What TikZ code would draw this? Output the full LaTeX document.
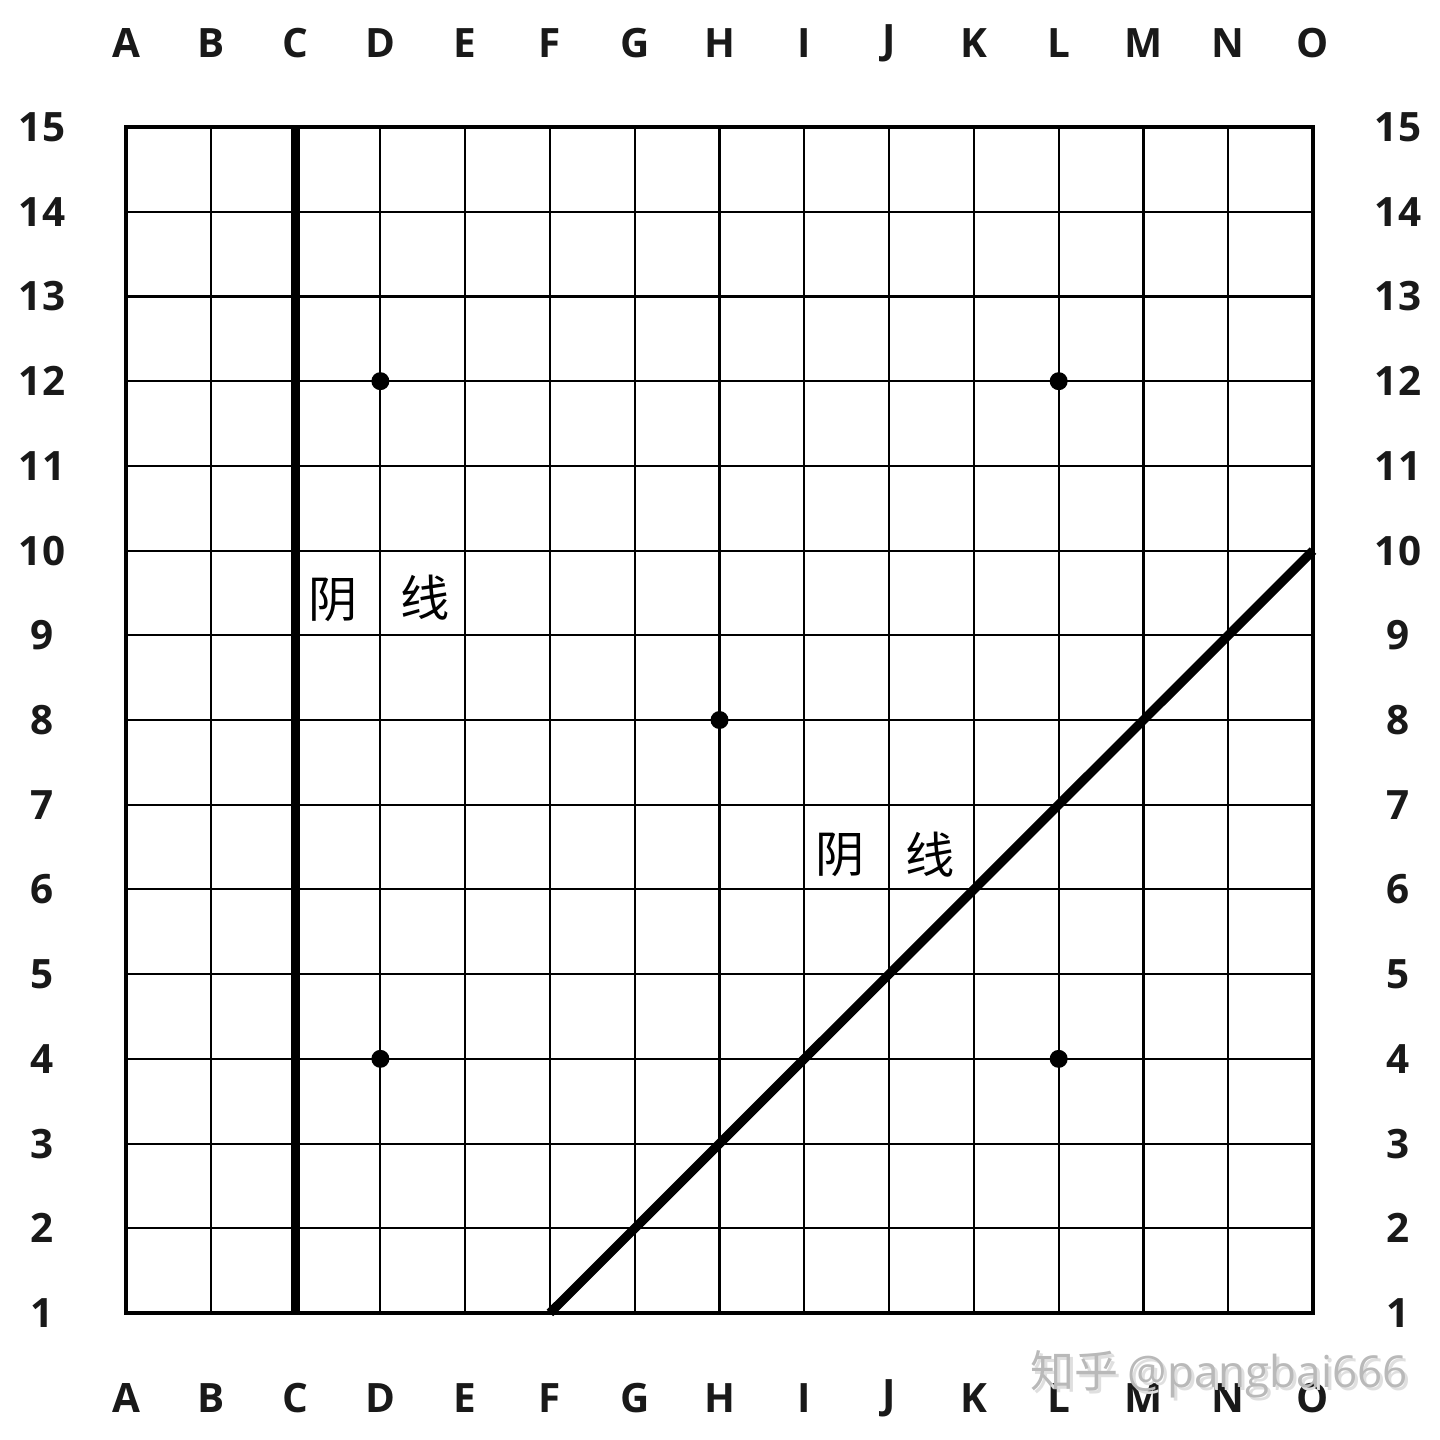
\documentclass[tikz,border=0pt]{standalone}
\usepackage{fontspec}
\setmainfont{Open Sans}
\newfontfamily\cjk{Noto Sans CJK SC}
\begin{document}
\begin{tikzpicture}[x=0.01cm,y=0.01cm,
  lbl/.style={font=\fontsize{11.5}{13}\selectfont\bfseries, text=black!90},
  hand/.style={font=\cjk\fontsize{14}{16}\selectfont, text=black},
  gridline/.style={line width=0.6pt, black},
  border/.style={line width=1.2pt, black},
  yinxian/.style={line width=2.6pt, black},
  star/.style={circle, fill=black, inner sep=0pt, minimum size=0.18cm},
  wm/.style={font=\fontsize{12.5}{15}\selectfont, text=gray!55}]
\useasboundingbox (0,0) rectangle (1440,1440);
\fill[white] (0,0) rectangle (1440,1440);
\def\cols{A,B,C,D,E,F,G,H,I,J,K,L,M,N,O}
% grid points
\foreach \c [count=\i] in \cols {
  \foreach \r in {1,...,15} {
    \coordinate (\c\r) at ({126+84.79*(\i-1)},{127+84.71*(\r-1)});
  }
}
% inner grid lines
\foreach \c in {B,C,D,E,F,G,H,I,J,K,L,M,N} \draw[gridline] (\c1) -- (\c15);
\foreach \r in {2,...,14} \draw[gridline] (A\r) -- (O\r);
% border
\draw[border] (A1) rectangle (O15);
% thick lines
\draw[yinxian] (C1) -- (C15);
\draw[yinxian] (F1) -- (O10);
% star points
\foreach \p in {D12,L12,H8,D4,L4} \node[star] (s\p) at (\p) {};
% column labels
\foreach \c [count=\i] in \cols {
  \node[lbl] (top\c) at ({126+84.79*(\i-1)},1397) {\c};
  \node[lbl] (bot\c) at ({126+84.79*(\i-1)},42) {\c};
}
% row labels
\foreach \r in {1,...,15} {
  \node[lbl] (left\r) at (42,{127+84.71*(\r-1)}) {\r};
  \node[lbl] (right\r) at (1398,{127+84.71*(\r-1)}) {\r};
}
% handwritten labels
\node[hand] (y1a) at (333,840) {阴};
\node[hand] (y1b) at (425,842) {线};
\node[hand] (y2a) at (840,585) {阴};
\node[hand] (y2b) at (930,585) {线};
% watermark
\node[wm, text=gray!25] (wms) at (1222,63) {\cjk 知乎\ \rmfamily @pangbai666};
\node[wm] (wm) at (1219,66) {\cjk 知乎\ \rmfamily @pangbai666};
\end{tikzpicture}
\end{document}
